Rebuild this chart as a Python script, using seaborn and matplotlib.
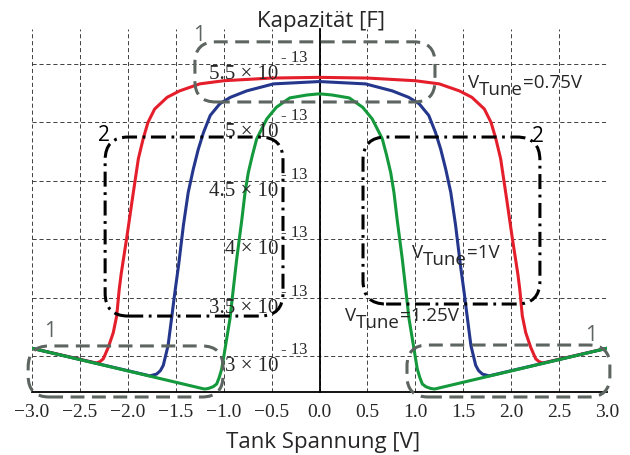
import numpy as np
import pandas as pd
import matplotlib
matplotlib.use("Agg")
import matplotlib.pyplot as plt
import seaborn as sns
from matplotlib.patches import FancyBboxPatch

# Tank voltage [V] and capacitance [1e-13 F] for each tuning voltage
red_v = [-3.0, -2.33, -2.29, -2.256, -2.204, -2.152, -2.116, -2.09, -2.07, -2.01,
         -1.95, -1.89, -1.84, -1.79, -1.72, -1.59, -1.46, -1.25, -1.0, -0.5, 0.0,
         0.5, 1.0, 1.25, 1.46, 1.59, 1.72, 1.79, 1.84, 1.89, 1.95,
         2.01, 2.07, 2.09, 2.116, 2.152, 2.204, 2.256, 2.29, 2.33, 3.0]
red_c = [3.066, 2.940, 2.952, 2.976, 3.074, 3.20, 3.345, 3.57, 3.70, 4.02,
         4.36, 4.69, 4.86, 5.0, 5.115, 5.215, 5.27, 5.33, 5.357, 5.38, 5.386,
         5.38, 5.357, 5.33, 5.27, 5.215, 5.115, 5.0, 4.86, 4.69, 4.36,
         4.02, 3.70, 3.57, 3.345, 3.20, 3.074, 2.976, 2.952, 2.940, 3.066]

blue_v = [-3.0, -1.77, -1.70, -1.66, -1.63, -1.58, -1.54, -1.51, -1.47, -1.42,
          -1.37, -1.317, -1.265, -1.21, -1.14, -1.04, -0.93, -0.76, -0.48, 0.0,
          0.48, 0.76, 0.93, 1.04, 1.14, 1.21, 1.265, 1.317, 1.37,
          1.42, 1.47, 1.51, 1.54, 1.58, 1.63, 1.66, 1.70, 1.77, 3.0]
blue_c = [3.066, 2.830, 2.845, 2.875, 2.92, 3.09, 3.345, 3.54, 3.78, 4.12,
          4.40, 4.60, 4.77, 4.915, 5.06, 5.16, 5.215, 5.27, 5.33, 5.35,
          5.33, 5.27, 5.215, 5.16, 5.06, 4.915, 4.77, 4.60, 4.40,
          4.12, 3.78, 3.54, 3.345, 3.09, 2.92, 2.875, 2.845, 2.830, 3.066]

green_v = [-3.0, -1.20, -1.16, -1.11, -1.073, -1.045, -1.02, -0.986, -0.934, -0.90,
           -0.864, -0.81, -0.777, -0.743, -0.70, -0.655, -0.55, -0.45, -0.31, -0.13, 0.0,
           0.13, 0.31, 0.45, 0.55, 0.655, 0.70, 0.743, 0.777, 0.81, 0.864,
           0.90, 0.934, 0.986, 1.02, 1.045, 1.073, 1.11, 1.16, 1.20, 3.0]
green_c = [3.066, 2.717, 2.722, 2.737, 2.76, 2.82, 2.89, 3.06, 3.32, 3.57,
           3.83, 4.17, 4.40, 4.57, 4.72, 4.86, 5.03, 5.13, 5.21, 5.235, 5.245,
           5.235, 5.21, 5.13, 5.03, 4.86, 4.72, 4.57, 4.40, 4.17, 3.83,
           3.57, 3.32, 3.06, 2.89, 2.82, 2.76, 2.737, 2.722, 2.717, 3.066]

tune_labels = ["=0.75V", "=1V", "=1.25V"]
series_colors = ["#e41e2b", "#24378c", "#14993c"]

x_ticks = [-3.0, -2.5, -2.0, -1.5, -1.0, -0.5, 0.0, 0.5, 1.0, 1.5, 2.0, 2.5, 3.0]
x_tick_labels = ["\u22123.0", "\u22122.5", "\u22122.0", "\u22121.5", "\u22121.0", "\u22120.5",
                 "0.0", "0.5", "1.0", "1.5", "2.0", "2.5", "3.0"]
y_ticks = [3.0, 3.5, 4.0, 4.5, 5.0, 5.5]
y_tick_mantissas = ["3 \u00d7 10", "3.5 \u00d7 10", "4 \u00d7 10", "4.5 \u00d7 10",
                    "5 \u00d7 10", "5.5 \u00d7 10"]
y_tick_exponent = "- 13"

# Highlighted regions: (x0, y0, x1, y1) in data units
region1_boxes = [(-1.30, 5.175, 1.205, 5.69),
                 (-3.04, 2.649, -1.007, 3.086),
                 (0.913, 2.649, 3.03, 3.094)]
region1_marks = [(-1.257, 5.757), (-2.812, 3.218), (2.838, 3.188)]
region2_boxes = [(-2.237, 3.342, -0.381, 4.875),
                 (0.454, 3.445, 2.30, 4.875)]
region2_marks = [(-2.25, 4.896), (2.275, 4.888)]

sns.set_style("white")
plt.rcParams["font.family"] = ["Open Sans", "DejaVu Sans"]
plt.rcParams["lines.scale_dashes"] = False

fig = plt.figure(figsize=(6.3, 4.56), dpi=100)
ax = fig.add_axes([32 / 630, 1 - 392.5 / 456, 575 / 630, 362.5 / 456])

curves = pd.concat([
    pd.DataFrame({"v": red_v, "c": red_c, "tune": "0.75"}),
    pd.DataFrame({"v": blue_v, "c": blue_c, "tune": "1"}),
    pd.DataFrame({"v": green_v, "c": green_c, "tune": "1.25"}),
])
sns.lineplot(data=curves, x="v", y="c", hue="tune", palette=series_colors,
             estimator=None, sort=False, linewidth=2.2, legend=False, ax=ax, zorder=3)

ax.set_xlim(-3.0, 3.0)
ax.set_ylim(2.696, 5.80)
ax.set_xlabel("")
ax.set_ylabel("")

# Dashed grid
ax.set_xticks(x_ticks, labels=x_tick_labels, fontfamily="Liberation Serif", fontsize=14)
ax.set_yticks(y_ticks)
ax.grid(True, color="#222222", linewidth=0.6, linestyle=(0, (3, 2)))
ax.set_axisbelow(True)

# Axes through the origin style
for side in ["top", "right"]:
    ax.spines[side].set_visible(False)
ax.spines["left"].set_position(("data", 0))
ax.spines["left"].set_color("black")
ax.spines["left"].set_linewidth(1.3)
ax.spines["bottom"].set_color("black")
ax.spines["bottom"].set_linewidth(1.3)
ax.tick_params(axis="x", direction="out", length=4.3, width=1.0, color="black", pad=4)
ax.tick_params(axis="y", direction="out", length=4.3, width=1.0, color="black",
               labelleft=False)

# y tick labels with raised exponent
for val, mant in zip(y_ticks, y_tick_mantissas):
    ax.annotate(mant, xy=(0, val), xycoords="data", xytext=(-41, -14),
                textcoords="offset pixels", ha="right", va="baseline",
                fontfamily="Liberation Serif", fontsize=15, zorder=4)
    ax.annotate(y_tick_exponent, xy=(0, val), xycoords="data", xytext=(-12, 3),
                textcoords="offset pixels", ha="right", va="baseline",
                fontfamily="Liberation Serif", fontsize=12, zorder=4)

fig.text(321 / 630, 1 - 27 / 456, "Kapazit\u00e4t [F]", ha="center", va="baseline", fontsize=16)
fig.text(323 / 630, 1 - 448 / 456, "Tank Spannung [V]", ha="center", va="baseline", fontsize=16)

# Tuning-voltage labels: V, lowered "Tune", then the value
label_pos = [(1.55, 5.303), (0.965, 3.848), (0.266, 3.308)]
for (lx, ly), txt in zip(label_pos, tune_labels):
    t1 = ax.text(lx, ly, "V", ha="left", va="baseline", fontsize=13.5, zorder=5)
    t2 = ax.annotate("Tune", xy=(1, 0), xycoords=t1, xytext=(0, -7),
                     textcoords="offset pixels", ha="left", va="bottom", fontsize=13.5, zorder=5)
    ax.annotate(txt, xy=(1, 0), xycoords=t2, xytext=(0, 7),
                textcoords="offset pixels", ha="left", va="bottom", fontsize=13.5, zorder=5)

# Rounded highlight boxes, corners kept circular in pixel space
fig.canvas.draw()
p0 = ax.transData.transform((0, 0))
p1 = ax.transData.transform((1, 1))
aspect = (p1[0] - p0[0]) / (p1[1] - p0[1])
radius = 21 / (p1[0] - p0[0])

gray = "#5d6560"
for (x0, y0, x1, y1) in region1_boxes:
    ax.add_patch(FancyBboxPatch((x0, y0), x1 - x0, y1 - y0,
                                boxstyle=f"round,pad=0,rounding_size={radius}",
                                mutation_aspect=aspect, fill=False, edgecolor=gray,
                                linewidth=2.2, linestyle=(0, (10, 5.4)),
                                clip_on=False, zorder=6))
for (mx, my) in region1_marks:
    ax.text(mx, my, "1", ha="center", va="center", fontsize=15, color=gray, zorder=6)

for (x0, y0, x1, y1) in region2_boxes:
    ax.add_patch(FancyBboxPatch((x0, y0), x1 - x0, y1 - y0,
                                boxstyle=f"round,pad=0,rounding_size={radius * 1.1}",
                                mutation_aspect=aspect, fill=False, edgecolor="black",
                                linewidth=2.2, linestyle=(0, (10.8, 4.0, 2.0, 4.0)),
                                clip_on=False, zorder=6))
for (mx, my) in region2_marks:
    ax.text(mx, my, "2", ha="center", va="center", fontsize=15, color="black", zorder=6)

fig.savefig("out.png", dpi=100)
